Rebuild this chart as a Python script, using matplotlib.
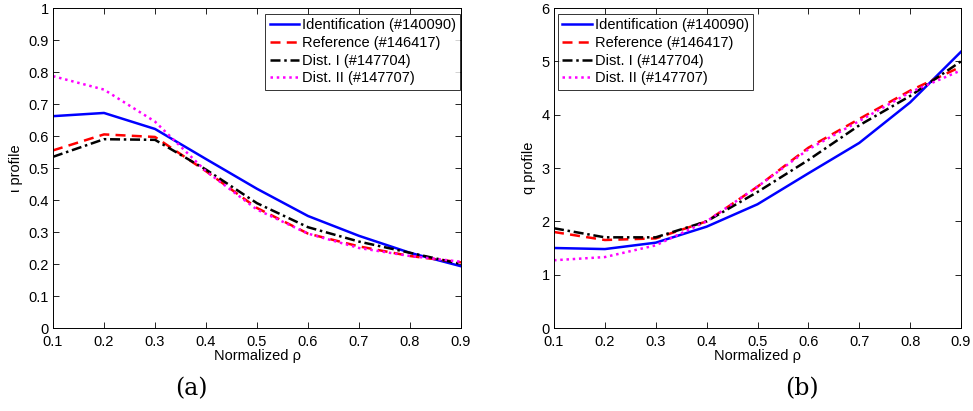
import matplotlib
matplotlib.use("Agg")
import matplotlib.pyplot as plt

plt.rcParams["font.family"] = ["Liberation Sans", "DejaVu Sans"]

rho = [0.1, 0.2, 0.3, 0.4, 0.5, 0.6, 0.7, 0.8, 0.9]

# iota profile (a)
iota_ident = [0.662, 0.672, 0.622, 0.528, 0.435, 0.350, 0.288, 0.235, 0.193]
iota_ref = [0.555, 0.605, 0.597, 0.490, 0.375, 0.295, 0.255, 0.225, 0.205]
iota_dist1 = [0.535, 0.590, 0.588, 0.495, 0.390, 0.315, 0.270, 0.235, 0.200]
iota_dist2 = [0.787, 0.745, 0.645, 0.490, 0.370, 0.295, 0.250, 0.225, 0.207]

# q profile (b)
q_ident = [1.50, 1.48, 1.60, 1.90, 2.32, 2.90, 3.47, 4.23, 5.18]
q_ref = [1.80, 1.65, 1.68, 2.00, 2.65, 3.38, 3.92, 4.45, 4.90]
q_dist1 = [1.87, 1.70, 1.70, 2.00, 2.55, 3.15, 3.80, 4.35, 5.00]
q_dist2 = [1.27, 1.33, 1.55, 2.00, 2.65, 3.35, 3.88, 4.42, 4.83]

labels = ["Identification (#140090)", "Reference (#146417)",
          "Dist. I (#147704)", "Dist. II (#147707)"]
styles = [
    dict(color="#0000ff", linestyle="-"),
    dict(color="#ff0000", linestyle=(0, (4, 2.5))),
    dict(color="black", linestyle=(0, (4, 1.5, 1, 1.5))),
    dict(color="#ff00ff", linestyle=(0, (1, 1.5))),
]

fig = plt.figure(figsize=(9.73, 4.11), dpi=100)
W, H = 973, 411
ax1 = fig.add_axes([53 / W, 1 - 328 / H, 408 / W, 320 / H])
ax2 = fig.add_axes([554 / W, 1 - 328 / H, 407 / W, 320 / H])


def draw(ax, series, ylim, yticks, ylabel, loc, anchor):
    for ys, lab, st in zip(series, labels, styles):
        ax.plot(rho, ys, linewidth=1.8, label=lab, **st)
    ax.set_xlim(0.1, 0.9)
    ax.set_ylim(*ylim)
    ax.set_xticks(rho)
    ax.set_xticklabels([f"{v:g}" for v in rho])
    ax.set_yticks(yticks)
    ax.set_yticklabels([f"{v:g}" for v in yticks])
    ax.tick_params(direction="in", top=True, right=True, labelsize=10.5,
                   length=4, width=0.6, pad=3)
    ax.tick_params(axis="x", pad=5)
    for s in ax.spines.values():
        s.set_linewidth(0.7)
    ax.set_xlabel("Normalized ρ", fontsize=10.5, labelpad=0)
    ax.set_ylabel(ylabel, fontsize=10.5, labelpad=4)
    leg = ax.legend(loc=loc, bbox_to_anchor=anchor, fontsize=10.5,
                    frameon=True, fancybox=False, borderpad=0.3,
                    labelspacing=0.25, handlelength=2.0, handletextpad=0.2,
                    borderaxespad=0)
    leg.get_frame().set_edgecolor("black")
    leg.get_frame().set_linewidth(0.7)


draw(ax1, [iota_ident, iota_ref, iota_dist1, iota_dist2], (0, 1),
     [0, 0.1, 0.2, 0.3, 0.4, 0.5, 0.6, 0.7, 0.8, 0.9, 1], "ι profile",
     "upper right", (0.998, 0.981))
draw(ax2, [q_ident, q_ref, q_dist1, q_dist2], (0, 6),
     [0, 1, 2, 3, 4, 5, 6], "q profile",
     "upper left", (0.01, 0.981))

fig.text(191 / W, 1 - 389 / H, "(a)", family=["DejaVu Serif"],
         fontsize=17, ha="center", va="center")
fig.text(802 / W, 1 - 389 / H, "(b)", family=["DejaVu Serif"],
         fontsize=17, ha="center", va="center")

fig.savefig("out.png", dpi=100)
